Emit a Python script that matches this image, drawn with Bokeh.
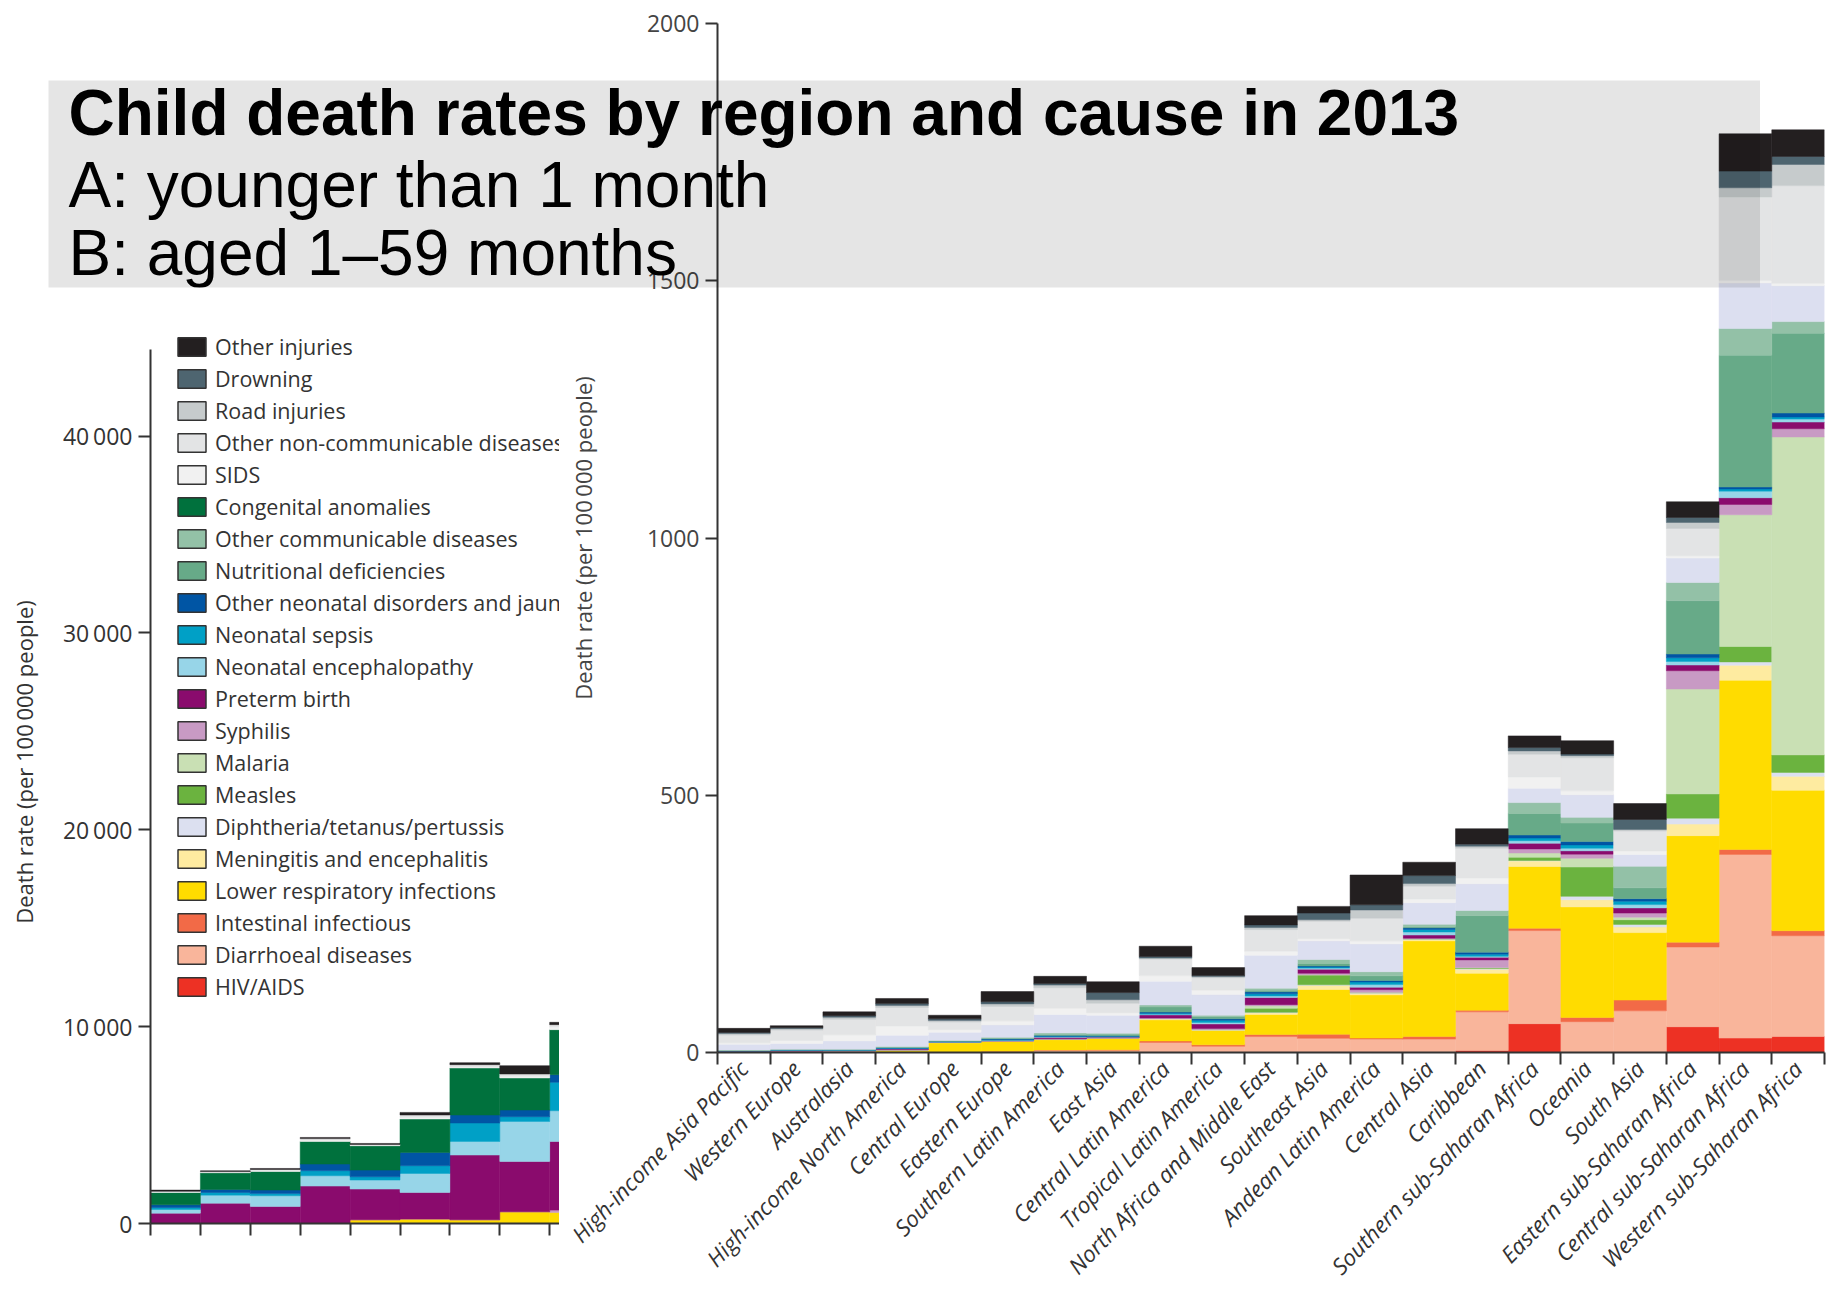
import math

from bokeh.embed import file_html
from bokeh.layouts import column
from bokeh.models import (ColumnDataSource, FixedTicker, Label, Legend,
                          LegendItem, Range1d)
from bokeh.plotting import figure
from bokeh.resources import INLINE

# ---------------------------------------------------------------- data ----
regions = [
    "High-income Asia Pacific", "Western Europe", "Australasia",
    "High-income North America", "Central Europe", "Eastern Europe",
    "Southern Latin America", "East Asia", "Central Latin America",
    "Tropical Latin America", "North Africa and Middle East", "Southeast Asia",
    "Andean Latin America", "Central Asia", "Caribbean",
    "Southern sub-Saharan Africa", "Oceania", "South Asia",
    "Eastern sub-Saharan Africa", "Central sub-Saharan Africa",
    "Western sub-Saharan Africa",
]

# legend order (top of the stack first)
causes = [
    "Other injuries", "Drowning", "Road injuries",
    "Other non-communicable diseases", "SIDS", "Congenital anomalies",
    "Other communicable diseases", "Nutritional deficiencies",
    "Other neonatal disorders and jaundice", "Neonatal sepsis",
    "Neonatal encephalopathy", "Preterm birth", "Syphilis", "Malaria",
    "Measles", "Diphtheria/tetanus/pertussis", "Meningitis and encephalitis",
    "Lower respiratory infections", "Intestinal infectious",
    "Diarrhoeal diseases", "HIV/AIDS",
]
cause_colors = [
    "#231f20", "#4e6570", "#c6cbcc", "#e3e4e5", "#f1f1f1", "#00713d",
    "#93c1a7", "#67aa88", "#0055a4", "#00a0c6", "#97d5e8", "#8a0b6d",
    "#c89ac4", "#c9e0b4", "#6bb33f", "#dce0f0", "#feeba0", "#ffdc00",
    "#f26a47", "#f9b59b", "#ed3124",
]
# congenital anomalies are shaded lavender in the 1-59 month panel
b_congenital_color = "#dcdff0"

# Panel B: aged 1-59 months, deaths per 100 000, one value per region
b_other_injuries = [8, 4, 7.5, 10, 7, 20, 14, 21, 20, 15.5, 18, 13, 58, 26, 30, 22.7, 26, 31, 30.5, 72.5, 51.8]
b_drowning = [2, 1.5, 3, 3.5, 3, 4, 3, 14, 3, 2, 5, 13, 10, 15.5, 4, 6.5, 3, 19.4, 9.7, 32.4, 15.5]
b_road = [3, 3, 4, 4, 3, 5, 5, 7, 2, 2, 4, 3, 16, 5, 4, 6.5, 4, 3, 11.6, 18, 41]
b_other_ncd = [15, 20, 30, 36, 15, 28, 40, 18, 32, 24, 42, 34, 44, 25, 58, 44, 64, 39, 53, 162, 190]
b_sids = [3, 6, 12, 18, 5, 8, 12, 5, 11, 9, 8, 4, 6, 7, 11, 22, 8, 6.5, 4.5, 5, 4.6]
b_congenital = [11, 11, 16, 22, 16, 24, 36, 35, 46, 40, 64, 36, 54, 42, 52, 28, 44, 23, 47.5, 88.6, 69.8]
b_other_communicable = [1, 1, 1, 1.5, 1, 2, 3, 2, 4, 3, 4, 8, 8, 5, 10, 21, 11, 42, 35.5, 52, 22.7]
b_nutritional = [0.3, 0.3, 0.3, 0.5, 0.5, 1, 2, 3, 10, 4, 3, 5, 9, 2, 71, 42, 36, 21, 103.6, 256, 155]
b_other_neonatal = [0.5, 0.5, 0.5, 1, 0.8, 1.5, 1.5, 1, 2, 3, 4, 2, 3, 3, 4, 6, 6.5, 5, 7.4, 4, 7.8]
b_sepsis = [0, 0.3, 0.5, 0.8, 0.5, 1, 1, 1, 2, 4, 4, 2, 5, 5, 4, 5, 6.5, 6.5, 7, 4, 4]
b_encephalopathy = [0, 0.3, 0.3, 0.5, 0.5, 0.5, 1, 0.5, 1.5, 3, 3, 2, 5, 6, 2, 5, 5, 6.5, 7, 12.9, 5.7]
b_preterm = [1, 1.5, 1, 2, 0.5, 1, 3, 1.5, 6, 9, 14, 8, 5, 6, 5, 11, 6.5, 10, 11, 13, 13]
b_syphilis = [0, 0, 0, 0, 0, 0, 0.3, 0, 1, 2, 2, 3, 5, 1, 15, 8, 8, 8, 35.6, 20, 16]
b_malaria = [0, 0, 0, 0, 0, 0, 0, 0, 0, 0, 5, 0.5, 0.5, 0.3, 1, 8, 17, 5, 204, 256, 618]
b_measles = [0, 0, 0, 0, 0, 0, 0, 0, 0, 0, 8, 19, 0.5, 0.5, 1, 6.5, 57, 9, 47, 30, 34]
b_dtp = [0, 0.2, 0.2, 0.3, 0.2, 0.2, 0.2, 0.2, 0.5, 0.5, 1, 1, 1, 0.5, 1, 1, 6.5, 5, 11.5, 6.5, 7.7]
b_meningitis = [0.5, 0.5, 0.5, 0.7, 0.5, 1, 1, 1, 2, 1, 3, 8, 3, 3, 8, 10.7, 14, 11, 22.5, 29, 27]
b_lri = [1, 1.5, 1.5, 3, 18, 19, 20, 22, 41, 28, 39, 87, 84, 186, 72, 120, 215, 131, 207, 329, 273]
b_intestinal = [0, 0, 0.2, 0.2, 0.3, 0.3, 0.5, 1, 3, 3, 4, 8, 2, 5, 3, 4.5, 8, 21, 9.5, 9.7, 9.7]
b_diarrhoeal = [0.5, 0.3, 0.5, 0.8, 0.5, 1.5, 4, 4, 19, 11, 30, 27, 25, 25, 75, 181, 59, 80, 155, 357, 196]
b_hiv = [0.1, 0.1, 0, 0.2, 0.1, 0.5, 0.5, 0.3, 0.5, 1, 1, 0.5, 1, 1, 4, 56, 1, 1, 50, 28, 31]

# Panel A: younger than 1 month, deaths per 100 000 (first nine regions)
a_other_injuries = [60, 40, 50, 60, 50, 130, 100, 422, 117]
a_other_ncd = [30, 40, 60, 70, 50, 120, 120, 120, 124]
a_sids = [30, 20, 42, 73, 17, 85, 50, 83, 130]
a_congenital = [625, 849, 946, 1149, 1237, 1698, 2389, 1627, 2288]
a_other_neonatal = [137, 153, 170, 341, 339, 677, 407, 340, 390]
a_sepsis = [102, 136, 118, 254, 168, 391, 935, 239, 1440]
a_encephalopathy = [187, 407, 546, 524, 457, 966, 692, 2034, 1561]
a_preterm = [525, 1033, 864, 1901, 1561, 1352, 3289, 2557, 3488]
a_syphilis = [0, 0, 0, 0, 0, 0, 0, 0, 118]
a_lri = [0, 0, 0, 0, 188, 224, 188, 595, 563]

# ------------------------------------------------------------- layout ----
W, H = 1837, 1297
FONT = "Open Sans"
AXIS_COLOR = "#333333"

# pixel edges of panel B's plotting area
B_LEFT, B_RIGHT, B_TOP, B_BOTTOM = 717, 1824, 23, 1052
# pixel edges of panel A's plotting area (cut off where panel B begins)
A_LEFT, A_RIGHT, A_TOP, A_BOTTOM = 150, 559, 300, 1223
A_AXIS_MAX = 44400          # value at the top end of panel A's axis line
A_AXIS_TOP = 349            # pixel row of that top end
A_BAR_PX = 49.9

# ------------------------------------------------------------- panel B ----
b_series = [
    ("hiv", b_hiv), ("diarrhoeal", b_diarrhoeal), ("intestinal", b_intestinal),
    ("lri", b_lri), ("meningitis", b_meningitis), ("dtp", b_dtp),
    ("measles", b_measles), ("malaria", b_malaria), ("syphilis", b_syphilis),
    ("preterm", b_preterm), ("encephalopathy", b_encephalopathy),
    ("sepsis", b_sepsis), ("other_neonatal", b_other_neonatal),
    ("nutritional", b_nutritional), ("other_communicable", b_other_communicable),
    ("congenital", b_congenital), ("sids", b_sids), ("other_ncd", b_other_ncd),
    ("road", b_road), ("drowning", b_drowning), ("other_injuries", b_other_injuries),
]
color_of = dict(zip(causes, cause_colors))
key_to_cause = {
    "hiv": "HIV/AIDS", "diarrhoeal": "Diarrhoeal diseases",
    "intestinal": "Intestinal infectious", "lri": "Lower respiratory infections",
    "meningitis": "Meningitis and encephalitis", "dtp": "Diphtheria/tetanus/pertussis",
    "measles": "Measles", "malaria": "Malaria", "syphilis": "Syphilis",
    "preterm": "Preterm birth", "encephalopathy": "Neonatal encephalopathy",
    "sepsis": "Neonatal sepsis", "other_neonatal": "Other neonatal disorders and jaundice",
    "nutritional": "Nutritional deficiencies",
    "other_communicable": "Other communicable diseases",
    "congenital": "Congenital anomalies", "sids": "SIDS",
    "other_ncd": "Other non-communicable diseases", "road": "Road injuries",
    "drowning": "Drowning", "other_injuries": "Other injuries",
}

b_data = {"x": list(range(len(regions)))}
for key, vals in b_series:
    b_data[key] = vals
b_src = ColumnDataSource(b_data)
b_keys = [k for k, _ in b_series]
b_colors = [b_congenital_color if k == "congenital" else color_of[key_to_cause[k]]
            for k in b_keys]

pb = figure(width=W, height=H, x_range=Range1d(-0.5, len(regions) - 0.5),
            y_range=Range1d(0, 2000), output_backend="svg", toolbar_location=None,
            min_border_left=B_LEFT, min_border_right=W - B_RIGHT,
            min_border_top=B_TOP, min_border_bottom=H - B_BOTTOM,
            frame_align=False, outline_line_color=None,
            background_fill_color="white", border_fill_color="white")
pb.xgrid.visible = False
pb.ygrid.visible = False
pb.vbar_stack(b_keys, x="x", width=1, color=b_colors, line_width=0.5, source=b_src)

yb = pb.yaxis[0]
yb.ticker = FixedTicker(ticks=[0, 500, 1000, 1500, 2000], minor_ticks=[])
yb.axis_label = "Death rate (per 100\u2009000 people)"
yb.axis_label_text_font = FONT
yb.axis_label_text_font_style = "normal"
yb.axis_label_text_font_size = "22px"
yb.axis_label_text_color = "#444444"
yb.axis_label_standoff = 46
yb.major_label_text_font = FONT
yb.major_label_text_font_size = "23px"
yb.major_label_text_color = "#444444"
yb.major_label_standoff = 6
yb.major_tick_out = 12
yb.major_tick_in = 0
yb.major_tick_line_width = 2
yb.major_tick_line_color = AXIS_COLOR
yb.axis_line_width = 2
yb.axis_line_color = AXIS_COLOR

xb = pb.xaxis[0]
xb.ticker = FixedTicker(ticks=list(range(len(regions))),
                        minor_ticks=[i - 0.5 for i in range(len(regions) + 1)])
xb.major_label_overrides = {i: r for i, r in enumerate(regions)}
xb.major_label_orientation = math.radians(46)
xb.major_label_text_font = FONT
xb.major_label_text_font_style = "italic"
xb.major_label_text_font_size = "22.5px"
xb.major_label_text_color = "#333333"
xb.major_label_standoff = 0
xb.major_tick_out = 12
xb.major_tick_in = 0
xb.major_tick_line_color = None
xb.minor_tick_out = 12
xb.minor_tick_in = 0
xb.minor_tick_line_width = 2
xb.minor_tick_line_color = AXIS_COLOR
xb.axis_line_width = 2
xb.axis_line_color = AXIS_COLOR

# ------------------------------------------------------------- panel A ----
a_series = [
    ("lri", a_lri), ("syphilis", a_syphilis), ("preterm", a_preterm),
    ("encephalopathy", a_encephalopathy), ("sepsis", a_sepsis),
    ("other_neonatal", a_other_neonatal), ("congenital", a_congenital),
    ("sids", a_sids), ("other_ncd", a_other_ncd),
    ("other_injuries", a_other_injuries),
]
a_data = {"x": [i + 0.5 for i in range(len(a_lri))]}
for key, vals in a_series:
    a_data[key] = vals
a_src = ColumnDataSource(a_data)
a_keys = [k for k, _ in a_series]
a_colors = [color_of[key_to_cause[k]] for k in a_keys]

a_visible_bars = (A_RIGHT - A_LEFT) / A_BAR_PX
a_px_per_unit = (A_BOTTOM - A_AXIS_TOP) / A_AXIS_MAX
a_y_end = (A_BOTTOM - A_TOP) / a_px_per_unit

pa = figure(width=A_RIGHT, height=H, x_range=Range1d(0, a_visible_bars),
            y_range=Range1d(0, a_y_end), output_backend="svg", toolbar_location=None,
            min_border_left=A_LEFT, min_border_right=0,
            min_border_top=A_TOP, min_border_bottom=H - A_BOTTOM,
            frame_align=False, outline_line_color=None,
            background_fill_alpha=0, border_fill_alpha=0,
            styles={"position": "absolute", "left": "0px", "top": "0px"})
pa.xgrid.visible = False
pa.ygrid.visible = False
pa.vbar_stack(a_keys, x="x", width=1, color=a_colors, line_width=0.5, source=a_src)

ya = pa.yaxis[0]
a_ticks = [0, 10000, 20000, 30000, 40000]
ya.ticker = FixedTicker(ticks=a_ticks, minor_ticks=[])
ya.bounds = (0, A_AXIS_MAX)
ya.major_label_overrides = {t: f"{t:,}".replace(",", "\u2009") for t in a_ticks}
ya.axis_label = "Death rate (per 100\u2009000 people)"
ya.axis_label_text_font = FONT
ya.axis_label_text_font_style = "normal"
ya.axis_label_text_font_size = "22px"
ya.axis_label_text_color = "#333333"
ya.axis_label_standoff = 21
ya.major_label_text_font = FONT
ya.major_label_text_font_size = "23px"
ya.major_label_text_color = "#333333"
ya.major_label_standoff = 6
ya.major_tick_out = 12
ya.major_tick_in = 0
ya.major_tick_line_width = 2
ya.major_tick_line_color = AXIS_COLOR
ya.axis_line_width = 2
ya.axis_line_color = AXIS_COLOR

xa = pa.xaxis[0]
a_xticks = list(range(0, 10))
xa.ticker = FixedTicker(ticks=a_xticks, minor_ticks=[])
xa.major_label_overrides = {t: "" for t in a_xticks}
xa.major_tick_out = 12
xa.major_tick_in = 0
xa.major_tick_line_width = 2
xa.major_tick_line_color = AXIS_COLOR
xa.axis_line_width = 2
xa.axis_line_color = AXIS_COLOR

# legend keys: hidden one-point renderers carrying each cause's outlined swatch
items = []
for name, col in zip(causes, cause_colors):
    r = pa.vbar(x=[0], top=[0], width=1, fill_color=col, line_color="#333333",
                line_width=1.5, visible=False)
    items.append(LegendItem(label=name, renderers=[r]))
legend = Legend(items=items, location=(24, 222), orientation="vertical",
                border_line_color=None, background_fill_alpha=0, padding=0,
                margin=0, spacing=3, glyph_width=35, glyph_height=23,
                label_height=23, label_standoff=6, label_text_font=FONT,
                label_text_font_size="21.5px", label_text_color="#333333",
                inactive_fill_alpha=0, click_policy="none")
pa.add_layout(legend)

# ------------------------------------------------------------- heading ----
# grey band (the frame) with a transparent margin around it for the text
T_LEFT, T_TOP, T_RIGHT, T_BOTTOM = 48, 80, 1760, 287
T_PAD = 20
HEAD_SHIFT = 23   # lifts the label anchor onto the text's baseline
pt = figure(width=T_RIGHT - T_LEFT, height=T_BOTTOM - T_TOP + 2 * T_PAD,
            x_range=Range1d(0, 1), y_range=Range1d(0, 1),
            x_axis_location=None, y_axis_location=None,
            output_backend="svg", toolbar_location=None,
            min_border_left=0, min_border_right=0,
            min_border_top=T_PAD, min_border_bottom=T_PAD,
            frame_align=False, outline_line_color=None,
            background_fill_color="black", background_fill_alpha=0.102,
            border_fill_alpha=0,
            styles={"position": "absolute", "left": f"{T_LEFT}px",
                    "top": f"{T_TOP - T_PAD}px"})
pt.xgrid.visible = False
pt.ygrid.visible = False

heading = [
    ("Child death rates by region and cause in 2013", "bold", 135),
    ("A: younger than 1 month", "normal", 207),
    ("B: aged 1\u201359 months", "normal", 275),
]
for txt, style, baseline in heading:
    pt.add_layout(Label(x=68 - T_LEFT, y=T_BOTTOM - baseline + HEAD_SHIFT,
                        x_units="screen", y_units="screen", text=txt,
                        text_font="Liberation Sans", text_font_style=style,
                        text_font_size="64px", text_color="black",
                        text_baseline="alphabetic", text_align="left"))

root = column(pb, pa, pt, spacing=0)
open("out.html", "w").write(file_html(root, INLINE))
